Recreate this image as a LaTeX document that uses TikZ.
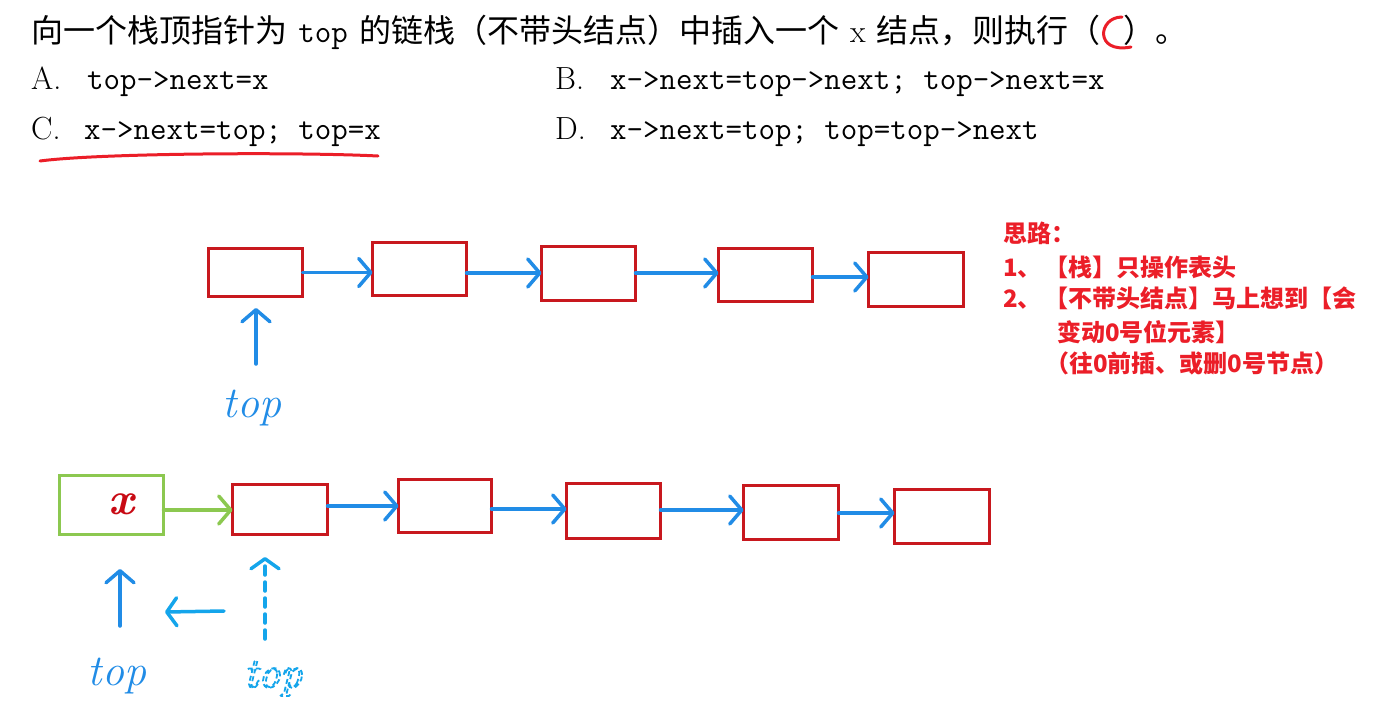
\documentclass[tikz,border=0pt]{standalone}
\usepackage{fontspec}
\newfontfamily\cjk{Noto Sans CJK SC}
\usetikzlibrary{arrows.meta}
\definecolor{boxred}{RGB}{200,24,30}
\definecolor{arrblue}{RGB}{33,140,230}
\definecolor{lgreen}{RGB}{140,200,80}
\definecolor{cyanb}{RGB}{20,165,235}
\definecolor{txtred}{RGB}{235,30,40}
\definecolor{xred}{RGB}{200,10,20}
\tikzset{
  rbox/.style={draw=boxred, line width=3pt, inner sep=0pt, outer sep=0pt},
  gbox/.style={draw=lgreen, line width=3pt, inner sep=0pt, outer sep=0pt},
  barr/.style={draw=arrblue, line width=3.5pt, line cap=round, -{Straight Barb[length=12pt,width=28pt,round]}},
  garr/.style={draw=lgreen, line width=3.5pt, line cap=round, -{Straight Barb[length=12pt,width=28pt,round]}},
  carr/.style={draw=cyanb, line width=3.5pt, line cap=round, -{Straight Barb[length=10pt,width=28pt,round]}},
  qtext/.style={anchor=base west, inner sep=0pt, font=\cjk\fontsize{32}{36}\selectfont},
  optl/.style={anchor=base west, inner sep=0pt, font=\rmfamily\fontsize{32}{36}\selectfont},
  optc/.style={anchor=base west, inner sep=0pt, font=\ttfamily\fontsize{32}{36}\selectfont},
  note/.style={anchor=base west, inner sep=0pt, text=txtred, font=\cjk\bfseries\fontsize{24}{28}\selectfont},
  hand/.style={inner sep=0pt, font=\rmfamily\itshape\fontsize{44}{44}\selectfont},
}
\begin{document}
\begin{tikzpicture}[x=1pt,y=-1pt]
\useasboundingbox (0,0) rectangle (1394,716);

% question
\node[qtext] (q) at (31,42) {向一个栈顶指针为\hspace{0.35em}{\ttfamily top}\hspace{0.35em}的链栈（不带头结点）中插入一个\hspace{0.35em}{\rmfamily x}\hspace{0.35em}结点，则执行（\hspace{0.7em}）。};
\node[optl] (la) at (31,89) {A.};
\node[optc] (ca) at (87,89) {top->next=x};
\node[optl] (lb) at (555,89) {B.};
\node[optc] (cb) at (610,89) {x->next=top->next; top->next=x};
\node[optl] (lc) at (31,139) {C.};
\node[optc] (cc) at (84,139) {x->next=top; top=x};
\node[optl] (ld) at (555,139) {D.};
\node[optc] (cd) at (610,139) {x->next=top; top=top->next};

% red marks
\coordinate (ul1) at (40,161);
\coordinate (ul2) at (378,156);
\draw[txtred, line width=3pt, line cap=round] (ul1) .. controls (100,153) and (300,152) .. (ul2);
\coordinate (cm1) at (1122,17);
\coordinate (cm2) at (1131,47);
\draw[txtred, line width=3pt, line cap=round] (cm1) .. controls (1098,17) and (1094,54) .. (cm2);

% notes
\node[note] (n0) at (1003,242) {思路：};
\node[note] (n1) at (1003,276) {1、\hspace{0.1em}【栈】只操作表头};
\node[note] (n2) at (1003,307) {2、\hspace{0.1em}【不带头结点】马上想到【会};
\node[note] (n3) at (1057,341) {变动0号位元素】};
\node[note] (n4) at (1045,372) {（往0前插、或删0号节点）};

% top row
\node[rbox, minimum width=94, minimum height=48] (t1) at (255.5,272.5) {};
\node[rbox, minimum width=94, minimum height=53] (t2) at (419.5,269) {};
\node[rbox, minimum width=94, minimum height=54] (t3) at (588.5,273.5) {};
\node[rbox, minimum width=94, minimum height=53] (t4) at (765.5,275) {};
\node[rbox, minimum width=95, minimum height=54] (t5) at (916,279.5) {};
\draw[barr] (t1.east) -- (t1.east -| t2.west);
\draw[barr] (t2.east |- 0,273) -- (t3.west |- 0,273);
\draw[barr] (t3.east |- 0,273) -- (t4.west |- 0,273);
\draw[barr] (t4.east |- 0,277) -- (t5.west |- 0,277);

\node[hand, text=arrblue] (tl1) at (252,408) {top};
\coordinate (u1s) at (256,364);
\coordinate (u1e) at (256,308);
\draw[barr] (u1s) -- (u1e);

% bottom row
\node[gbox, minimum width=104, minimum height=59] (g) at (111.5,505) {};
\node[hand, text=xred, font=\rmfamily\itshape\bfseries\fontsize{46}{46}\selectfont] (gx) at (121,504) {x};
\node[rbox, minimum width=95, minimum height=50] (b1) at (280,509.5) {};
\node[rbox, minimum width=93, minimum height=53] (b2) at (445,506) {};
\node[rbox, minimum width=94, minimum height=55] (b3) at (613.5,511) {};
\node[rbox, minimum width=95, minimum height=54] (b4) at (791,512.5) {};
\node[rbox, minimum width=95, minimum height=54] (b5) at (942,516.5) {};
\draw[garr] (g.east |- 0,510) -- (b1.west |- 0,510);
\draw[barr] (b1.east |- 0,506) -- (b2.west |- 0,506);
\draw[barr] (b2.east |- 0,509) -- (b3.west |- 0,509);
\draw[barr] (b3.east |- 0,510) -- (b4.west |- 0,510);
\draw[barr] (b4.east |- 0,513) -- (b5.west |- 0,513);

\coordinate (u2s) at (120,626);
\coordinate (u2e) at (120,569);
\draw[barr] (u2s) -- (u2e);
\node[hand, text=arrblue] (tl2) at (117,676) {top};

\coordinate (la1) at (224,611);
\coordinate (la2) at (165,612);
\draw[carr] (la1) -- (la2);

\coordinate (d1) at (265,639);
\coordinate (d2) at (265,557);
\draw[carr, dash pattern=on 9pt off 7pt] (d1) -- (d2);

\node[hand, text=cyanb] (tl3) at (273,678) {\special{pdf:code q 1 Tr 1.8 w [5 3] 0 d}top\special{pdf:code Q}};
\end{tikzpicture}
\end{document}
